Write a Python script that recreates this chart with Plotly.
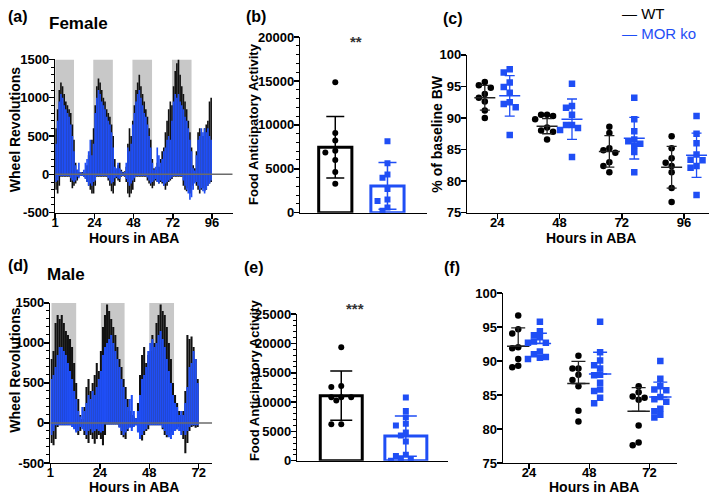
import plotly.graph_objects as go

W, H = 709, 502
FONT = "Liberation Sans, Arial, sans-serif"
BLUE = "#1f4ef5"

# ---------------- (a) Female wheel activity (hourly envelopes) ----------------
f_wt_hi = [600, 850, 1100, 1200, 1150, 1050, 950, 900, 850, 800, 650, 450,
           150, 60, 30, 20, 30, 20, 60, 120, 250, 300, 450, 600,
           900, 1150, 1250, 1200, 1100, 1000, 950, 850, 800, 750, 650, 500,
           200, 60, 120, 150, 60, 30, 40, 100, 400, 600, 500, 700,
           900, 1100, 1200, 1300, 1150, 1050, 950, 850, 750, 600, 450, 200,
           80, 60, 150, 100, 200, 300, 350, 550, 700, 850, 950, 900,
           1150, 1350, 1450, 1500, 1300, 1150, 1050, 950, 850, 700, 550, 350,
           120, 80, 300, 550, 600, 550, 500, 600, 650, 700, 950, 1000]
f_wt_lo = [-200, -250, -150, -30, -30, -30, -30, -30, -30, -100, -180, -150,
           -120, -80, -30, -20, -20, -30, -50, -100, -150, -200, -250, -250,
           -150, -30, -30, -30, -30, -30, -30, -30, -80, -150, -220, -250,
           -150, -50, -80, -100, -30, -20, -30, -100, -250, -300, -250, -200,
           -100, -30, -30, -30, -30, -30, -30, -30, -80, -120, -150, -180,
           -150, -80, -100, -120, -100, -120, -150, -200, -150, -100, -80, -60,
           -30, -30, -30, -30, -30, -30, -150, -200, -220, -180, -250, -200,
           -150, -100, -150, -200, -250, -200, -180, -220, -200, -150, -120, -100]
f_ko_hi = [400, 700, 950, 1050, 1000, 900, 850, 800, 750, 650, 500, 300,
           120, 60, 150, 30, 20, 60, 150, 200, 300, 450, 250, 400,
           800, 1000, 1100, 1050, 950, 900, 850, 750, 700, 650, 550, 350,
           100, 80, 150, 80, 40, 20, 30, 150, 350, 300, 400, 650,
           800, 950, 1050, 1100, 1000, 900, 800, 750, 650, 500, 350, 150,
           60, 100, 350, 250, 150, 200, 300, 350, 450, 500, 450, 700,
           950, 1050, 1000, 1050, 950, 900, 850, 750, 700, 600, 450, 300,
           80, 50, 250, 450, 500, 600, 550, 600, 550, 600, 500, 450]
f_ko_lo = [-100, -80, -20, -20, -20, -20, -20, -20, -20, -50, -80, -100,
           -80, -30, -50, -20, -20, -30, -60, -100, -150, -120, -150, -100,
           -80, -20, -20, -20, -20, -20, -20, -20, -50, -80, -120, -100,
           -50, -30, -50, -60, -20, -20, -20, -60, -100, -150, -120, -80,
           -50, -20, -20, -20, -20, -20, -20, -20, -40, -80, -120, -100,
           -80, -60, -100, -120, -80, -100, -150, -120, -100, -80, -60, -40,
           -20, -20, -20, -20, -20, -20, -80, -150, -200, -250, -330, -300,
           -200, -120, -100, -150, -200, -180, -220, -250, -200, -150, -120, -80]
f_dark_start = [0, 23.3, 47.3, 71.5]
f_dark_end = [11.5, 35.3, 59.3, 83.5]
f_ticks = [0, 24, 48, 72, 96]
f_ticktext = ["1", "24", "48", "72", "96"]

# ---------------- (d) Male wheel activity ----------------
m_wt_hi = [800, 900, 1250, 1350, 1300, 1350, 1250, 1150, 1100, 1050, 950, 750,
           500, 300, 100, 50, 200, 450, 550, 400, 500, 600, 750, 650,
           900, 1200, 1350, 1480, 1400, 1300, 1200, 1100, 950, 800, 700, 550,
           450, 300, 150, 100, 80, 60, 250, 600, 850, 950, 750, 850,
           900, 1100, 1000, 1250, 1350, 1480, 1400, 1350, 1200, 1000, 800, 500,
           350, 250, 150, 100, 150, 400, 1100, 1050, 1080, 950, 800, 550]
m_wt_lo = [-250, -280, -200, -50, -30, -30, -30, -30, -30, -30, -30, -60,
           -100, -150, -100, -50, -150, -200, -250, -150, -200, -260, -200, -150,
           -200, -280, -150, -20, -20, -20, -20, -20, -20, -50, -150, -180,
           -200, -100, -50, -60, -40, -30, -100, -150, -220, -150, -100, -80,
           -30, -30, -30, -30, -30, -30, -80, -150, -180, -150, -120, -100,
           -100, -80, -50, -100, -200, -380, -250, -100, -50, -40, -60, -50]
m_ko_hi = [550, 600, 700, 850, 950, 950, 900, 850, 750, 650, 550, 400,
           300, 150, 80, 200, 150, 250, 350, 300, 400, 350, 450, 550,
           650, 850, 950, 1000, 1050, 1100, 1000, 900, 800, 700, 550, 450,
           300, 200, 300, 350, 150, 60, 150, 350, 550, 600, 700, 900,
           1000, 1050, 950, 1000, 1100, 1150, 1050, 950, 800, 650, 500, 350,
           250, 200, 100, 150, 100, 250, 450, 700, 750, 900, 800, 500]
m_ko_lo = [-150, -100, -30, -30, -30, -30, -30, -30, -30, -30, -50, -80,
           -120, -100, -50, -80, -100, -150, -100, -80, -120, -100, -80, -100,
           -120, -100, -20, -20, -20, -20, -20, -20, -20, -60, -100, -150,
           -120, -80, -60, -100, -50, -30, -120, -200, -150, -100, -80, -30,
           -30, -30, -30, -30, -30, -30, -60, -100, -150, -180, -200, -150,
           -100, -80, -100, -150, -100, -150, -100, -50, -30, -30, -30, -30]
m_dark_start = [0.5, 24.5, 48]
m_dark_end = [12.5, 36, 60]
m_ticks = [0, 24, 48, 72]
m_ticktext = ["1", "24", "48", "72"]

# ---------------- (b) Female FAA ----------------
b_wt_pts = [14840, 9060, 8210, 7040, 6850, 6000, 4640, 3280]
b_ko_pts = [8140, 5640, 4350, 3980, 2690, 1510, 1330, 590, 220]
b_means = [7450, 3050]
b_sd = [3500, 2650]

# ---------------- (e) Male FAA ----------------
e_wt_pts = [19370, 12750, 12580, 10830, 10830, 10830, 10270, 6240, 6240]
e_ko_pts = [10800, 8500, 7400, 6300, 6000, 4800, 4300, 3300, 1000, 800, 400, 200, 0]
e_means = [11100, 4200]
e_sd = [4200, 3450]

# ---------------- (c) Female body weight ----------------
c_hours = ["24", "48", "72", "96"]
c_wt = [[95.7, 95.2, 94.8, 93.8, 93.2, 92.6, 91.2, 90.0],
        [90.5, 90.5, 90.3, 89.8, 88.5, 88.0, 87.8, 86.6],
        [88.6, 87.6, 85.2, 84.9, 84.5, 83.0, 82.4, 81.4],
        [87.1, 85.2, 83.6, 82.9, 82.4, 81.4, 78.9, 76.7]]
c_ko = [[97.7, 97.2, 95.6, 94.9, 94.0, 92.5, 92.2, 91.7, 87.3],
        [95.4, 91.9, 91.6, 90.5, 88.9, 88.9, 88.4, 88.1, 83.8],
        [93.2, 89.8, 87.9, 86.6, 86.3, 85.9, 85.6, 84.6, 81.4],
        [90.3, 87.5, 86.0, 84.2, 83.4, 83.3, 82.4, 82.1, 77.8]]
c_wt_mean = [93.2, 88.7, 84.7, 82.2]
c_wt_sd = [1.95, 1.2, 2.5, 3.3]
c_ko_mean = [93.5, 89.8, 86.8, 84.1]
c_ko_sd = [3.2, 3.2, 3.3, 3.5]

# ---------------- (f) Male body weight ----------------
f_hours = ["24", "48", "72"]
fw_wt = [[96.7, 94.7, 94.05, 92.05, 91.9, 90.3, 89.3, 89.1],
         [90.8, 88.9, 88.9, 88.0, 87.2, 86.3, 82.7, 81.1],
         [86.3, 85.4, 84.8, 84.6, 84.3, 80.5, 78.0, 77.6]]
fw_ko = [[95.8, 94.4, 93.8, 93.5, 92.9, 92.7, 92.7, 91.4, 91.0, 90.6, 90.5, 90.3],
         [95.8, 91.3, 90.1, 89.4, 88.9, 88.0, 87.9, 86.8, 85.8, 85.6, 84.6, 83.8],
         [90.0, 87.4, 86.3, 85.8, 85.7, 84.7, 84.4, 84.0, 83.0, 82.6, 82.1, 81.7]]
fw_wt_mean = [92.2, 86.7, 82.6]
fw_wt_sd = [2.7, 3.25, 3.5]
fw_ko_mean = [92.6, 88.1, 84.7]
fw_ko_sd = [1.5, 3.2, 2.2]


def B(s):
    return "<b>%s</b>" % s


def swarm(vals, ppy, ppx, step=6.0, d=6.0):
    """deterministic beeswarm offsets (x units)"""
    placed, offs = [], []
    for v in vals:
        y = v * ppy
        for c in [0, -1, 1, -2, 2, -3, 3]:
            x = c * step
            if all((x - a) ** 2 + (y - b) ** 2 >= d * d for a, b in placed):
                break
        placed.append((x, y))
        offs.append(x / ppx)
    return offs


fig = go.Figure()


def activity(hi, lo, color, xa, ya):
    fig.add_trace(go.Bar(x=[i + 0.5 for i in range(len(hi))],
                         y=[h - l for h, l in zip(hi, lo)], base=lo, width=1.0,
                         marker=dict(color=color, line=dict(width=0)),
                         xaxis=xa, yaxis=ya, showlegend=False, hoverinfo="skip"))


activity(f_wt_hi, f_wt_lo, "#111111", "x", "y")
activity(f_ko_hi, f_ko_lo, BLUE, "x", "y")
activity(m_wt_hi, m_wt_lo, "#111111", "x4", "y4")
activity(m_ko_hi, m_ko_lo, BLUE, "x4", "y4")


def faa(means, sd, wt_pts, ko_pts, xa, ya, bw, ppx, ppy, cap, lw):
    for i, col in enumerate(["black", BLUE]):
        fig.add_trace(go.Bar(x=[i], y=[means[i]], width=bw,
                             marker=dict(color="white", line=dict(color=col, width=lw)),
                             error_y=dict(type="data", array=[sd[i]], color=col,
                                          thickness=1.5, width=cap),
                             xaxis=xa, yaxis=ya, showlegend=False))
    offs = swarm(wt_pts, ppy, ppx, step=5, d=5.5)
    fig.add_trace(go.Scatter(x=[0 + o for o in offs], y=wt_pts, mode="markers",
                             marker=dict(symbol="circle", size=6, color="black"),
                             xaxis=xa, yaxis=ya, showlegend=False))
    offs = swarm(ko_pts, ppy, ppx, step=5, d=5.5)
    fig.add_trace(go.Scatter(x=[1 + o for o in offs], y=ko_pts, mode="markers",
                             marker=dict(symbol="square", size=6, color=BLUE),
                             xaxis=xa, yaxis=ya, showlegend=False))


faa(b_means, b_sd, b_wt_pts, b_ko_pts, "x2", "y2", 0.636, 52.5, 181 / 20000, 9, 3)
faa(e_means, e_sd, e_wt_pts, e_ko_pts, "x5", "y5", 0.65, 65.0, 151 / 25000, 11, 3)


def bw_panel(wt, ko, wt_m, wt_s, ko_m, ko_s, xa, ya, ppx, ppy, off, upper_only, cap, msize):
    n = len(wt)
    for groups, means, sds, col, sym, sgn in [(wt, wt_m, wt_s, "#222222", "circle", -1),
                                              (ko, ko_m, ko_s, BLUE, "square", 1)]:
        xs, ys = [], []
        for g in range(n):
            offs = swarm(groups[g], ppy, ppx, step=6.0, d=6.0)
            xs += [g + sgn * off + o for o in offs]
            ys += groups[g]
        fig.add_trace(go.Scatter(x=xs, y=ys, mode="markers",
                                 marker=dict(symbol=sym, size=6.5,
                                             color="black" if sym == "circle" else BLUE),
                                 xaxis=xa, yaxis=ya, showlegend=False))
        fig.add_trace(go.Scatter(x=[g + sgn * off for g in range(n)], y=means, mode="markers",
                                 marker=dict(symbol="line-ew", size=msize,
                                             line=dict(width=1.5, color=col)),
                                 error_y=dict(type="data", array=sds,
                                              arrayminus=[0] * n if upper_only else sds,
                                              color=col, thickness=1.3, width=cap),
                                 xaxis=xa, yaxis=ya, showlegend=False))


bw_panel(c_wt, c_ko, c_wt_mean, c_wt_sd, c_ko_mean, c_ko_sd, "x3", "y3",
         62.6, 162.7 / 25, 0.2, False, 5, 15)
bw_panel(fw_wt, fw_ko, fw_wt_mean, fw_wt_sd, fw_ko_mean, fw_ko_sd, "x6", "y6",
         60.6, 7.0, 0.18, True, 7, 16)


def dom_x(a, b):
    return [a / W, b / W]


def dom_y(top, bot):
    return [1 - bot / H, 1 - top / H]


def ax(**kw):
    base = dict(showline=True, linecolor="black", linewidth=1.5, ticks="outside",
                tickcolor="black", tickwidth=1.5, ticklen=5, showgrid=False,
                zeroline=False, fixedrange=True,
                tickfont=dict(family=FONT, size=13, color="black"))
    base.update(kw)
    return base


def xax(**kw):
    return ax(ticklabelstandoff=-8, **kw)


def yax(**kw):
    return ax(ticklabelstandoff=-3, **kw)


act_vals = [-500, 0, 500, 1000, 1500]
act_y = dict(range=[-500, 1500], tickvals=act_vals,
             ticktext=[B(v) for v in ["-500", "0", "500", "1000", "1500"]],
             minor=dict(ticks="outside", dtick=100, ticklen=3, tickwidth=1, tickcolor="black"))
faa_b_vals = [0, 5000, 10000, 15000, 20000]
faa_e_vals = [0, 5000, 10000, 15000, 20000, 25000]
bw_vals = [75, 80, 85, 90, 95, 100]

fig.update_layout(
    width=W, height=H, margin=dict(l=0, r=0, t=0, b=0), autosize=False,
    paper_bgcolor="white", plot_bgcolor="white", barmode="overlay", showlegend=False,
    xaxis=xax(domain=dom_x(51.5, 230), range=[0, 108.7], tickvals=f_ticks,
              ticktext=[B(t) for t in f_ticktext], anchor="y"),
    yaxis=yax(domain=dom_y(54, 212), anchor="x", **act_y),
    xaxis2=ax(domain=dom_x(298, 425), range=[-0.67, 1.75], ticks="",
              showticklabels=False, anchor="y2"),
    yaxis2=yax(domain=dom_y(31, 212), range=[0, 20000], tickvals=faa_b_vals,
               ticktext=[B(v) for v in faa_b_vals], anchor="x2",
               minor=dict(ticks="outside", dtick=1000, ticklen=3, tickwidth=1, tickcolor="black")),
    xaxis3=xax(domain=dom_x(466, 709), range=[-0.48, 3.4], tickvals=[0, 1, 2, 3],
               ticktext=[B(t) for t in c_hours], anchor="y3"),
    yaxis3=yax(domain=dom_y(49.3, 212), range=[75, 100], tickvals=bw_vals,
               ticktext=[B(v) for v in bw_vals], anchor="x3"),
    xaxis4=xax(domain=dom_x(46.7, 209.3), range=[0, 78.5], tickvals=m_ticks,
               ticktext=[B(t) for t in m_ticktext], anchor="y4"),
    yaxis4=yax(domain=dom_y(305, 470), anchor="x4", **act_y),
    xaxis5=ax(domain=dom_x(295, 447), range=[-0.68, 1.66], ticks="",
              showticklabels=False, anchor="y5"),
    yaxis5=yax(domain=dom_y(316.7, 467.7), range=[0, 25000], tickvals=faa_e_vals,
               ticktext=[B(v) for v in faa_e_vals], anchor="x5",
               minor=dict(ticks="outside", dtick=1000, ticklen=3, tickwidth=1, tickcolor="black")),
    xaxis6=xax(domain=dom_x(502, 677), range=[-0.43, 2.46], tickvals=[0, 1, 2],
               ticktext=[B(t) for t in f_hours], anchor="y6"),
    yaxis6=yax(domain=dom_y(295, 470), range=[75, 100], tickvals=bw_vals,
               ticktext=[B(v) for v in bw_vals], anchor="x6"),
)

shapes = []
for s, e in zip(f_dark_start, f_dark_end):
    shapes.append(dict(type="rect", xref="x", yref="y", x0=s, x1=e, y0=0, y1=1500,
                       fillcolor="#c8c8c8", line=dict(width=0), layer="below"))
for s, e in zip(m_dark_start, m_dark_end):
    shapes.append(dict(type="rect", xref="x4", yref="y4", x0=s, x1=e, y0=0, y1=1500,
                       fillcolor="#c8c8c8", line=dict(width=0), layer="below"))
shapes.append(dict(type="line", xref="x", yref="y", x0=0, x1=108.7, y0=0, y1=0,
                   line=dict(color="#6b6b6b", width=1.5), layer="above"))
shapes.append(dict(type="line", xref="x4", yref="y4", x0=0, x1=78.5, y0=0, y1=0,
                   line=dict(color="#6b6b6b", width=1.5), layer="above"))
fig.update_layout(shapes=shapes)


def ann(text, x, y, size, angle=0, color="black", bold=True, xanchor="center"):
    return dict(text=B(text) if bold else text, x=x / W, y=1 - y / H,
                xref="paper", yref="paper",
                showarrow=False, textangle=angle, xanchor=xanchor, yanchor="middle",
                font=dict(family=FONT, size=size, color=color))


annotations = [
    ann("(a)", 14, 10, 16), ann("Female", 75, 17, 17),
    ann("(b)", 253, 10, 16), ann("(c)", 452, 11.5, 16),
    ann("(d)", 14, 266, 16), ann("Male", 62, 276, 17),
    ann("(e)", 251, 269, 16), ann("(f)", 451, 269, 16),
    ann("Wheel Revolutions", 11, 126, 14, -90),
    ann("Hours in ABA", 131, 238, 14),
    ann("Food Anticipatory Activity", 251, 121, 13, -90),
    ann("% of baseline BW", 436, 131, 14, -90),
    ann("Hours in ABA", 590, 238, 14),
    ann("Wheel Revolutions", 11, 374, 14, -90),
    ann("Hours in ABA", 130.5, 495, 14),
    ann("Food Anticipatory Activity", 252, 385, 13, -90),
    ann("Hours in ABA", 593, 495, 14),
    ann("**", 354, 36, 15, color="#333333"),
    ann("***", 353, 311, 15, color="#333333"),
    ann("— WT", 619, 7, 15, bold=False, xanchor="left"),
    ann("— MOR ko", 619, 27.5, 15, color=BLUE, bold=False, xanchor="left"),
]
fig.update_layout(annotations=annotations)

POST = """
var gd = document.getElementById('{plot_id}');
var de = document.documentElement, bd = document.body, p = gd.parentElement;
de.style.margin = '0'; de.style.padding = '0'; de.style.overflow = 'hidden';
bd.style.margin = '0'; bd.style.padding = '0'; bd.style.overflow = 'hidden';
p.style.position = 'absolute'; p.style.left = '0px'; p.style.top = '0px';
p.style.margin = '0'; p.style.padding = '0';
"""

fig.write_html("out.html", config={"displayModeBar": False, "staticPlot": True},
               post_script=POST)
